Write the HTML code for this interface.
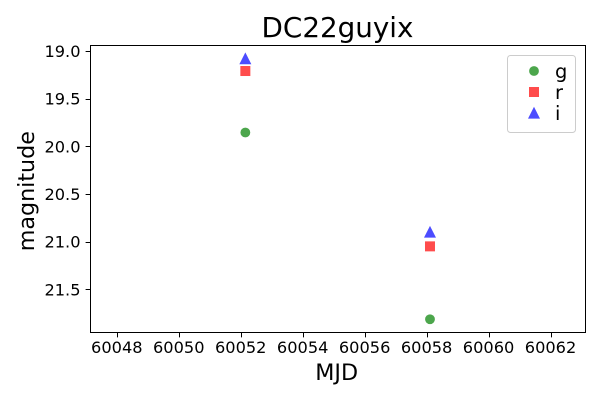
<!DOCTYPE html>
<html>
<head>
<meta charset="utf-8">
<style>
html,body{margin:0;padding:0;background:#fff;}
svg{display:block;}
text{font-family:"DejaVu Sans","Liberation Sans",sans-serif;fill:#000;}
</style>
</head>
<body>
<svg id="chart" xmlns="http://www.w3.org/2000/svg" width="600" height="400" viewBox="0 0 600 400"></svg>
<script>
const xTicks = [60048, 60050, 60052, 60054, 60056, 60058, 60060, 60062];
const yTicks = [19.0, 19.5, 20.0, 20.5, 21.0, 21.5];
const mjd = [60052.13, 60058.09];
const gMag = [19.855, 21.815];
const rMag = [19.21, 21.05];
const iMag = [19.08, 20.9];
const bands = ['g', 'r', 'i'];

const NS = 'http://www.w3.org/2000/svg';
const svg = document.getElementById('chart');
const L = 90.5, R = 585.5, T = 45.5, B = 332.5;
function xScale(v) { return 117.4 + (v - 60048) * 30.98; }
function yScale(v) { return 51 + (v - 19) * 95.3; }
function make(tag, attrs, parent) {
  const el = document.createElementNS(NS, tag);
  for (const k in attrs) el.setAttribute(k, attrs[k]);
  (parent || svg).appendChild(el);
  return el;
}
function label(str, x, y, size, anchor, parent) {
  const t = make('text', { x: x, y: y, 'font-size': size, 'text-anchor': anchor }, parent);
  t.textContent = str;
  return t;
}
function marker(band, x, y, parent) {
  let el;
  if (band === 'g') {
    el = make('circle', { cx: x, cy: y, r: 4.9, fill: '#008000', 'fill-opacity': 0.7 }, parent);
  } else if (band === 'r') {
    el = make('rect', { x: x - 5, y: y - 5, width: 10, height: 10, fill: '#ff0000', 'fill-opacity': 0.7 }, parent);
  } else {
    const p = [[x, y - 6.2], [x + 6, y + 5.6], [x - 6, y + 5.6]].map(function (c) { return c.join(','); }).join(' ');
    el = make('polygon', { points: p, fill: '#0000ff', 'fill-opacity': 0.7 }, parent);
  }
  return el;
}

const title = label('DC22guyix', 337.5, 37, 27.78, 'middle');



const series = { g: gMag, r: rMag, i: iMag };
bands.forEach(function (b) {
  const group = make('g', {});
  
  
  mjd.forEach(function (m, idx) {
    const pt = marker(b, xScale(m), yScale(series[b][idx]), group);
    
    
  });
});

const frame = make('rect', { x: L, y: T, width: R - L, height: B - T, fill: 'none', stroke: '#000', 'stroke-width': 1 });



const xAxis = make('g', {});


xTicks.forEach(function (v) {
  const x = Math.round(xScale(v)) + 0.5;
  const tick = make('line', { x1: x, x2: x, y1: B, y2: B + 4.9, stroke: '#000', 'stroke-width': 1 }, xAxis);
  
  
  const t = label(String(v), xScale(v) - 0.6, 353, 16.2, 'middle', xAxis);
  
  
});

const yAxis = make('g', {});


yTicks.forEach(function (v) {
  const y = Math.round(yScale(v)) + 0.5;
  const tick = make('line', { x1: L - 4.9, x2: L, y1: y, y2: y, stroke: '#000', 'stroke-width': 1 }, yAxis);
  
  
  const t = label(v.toFixed(1), 80.5, yScale(v) + 6, 16.2, 'end', yAxis);
  
  
});

const xTitle = label('MJD', 336.7, 380, 22.22, 'middle');



const yTitle = label('magnitude', 0, 0, 22.22, 'middle');
yTitle.setAttribute('transform', 'translate(34,191.2) rotate(-90)');



const legend = make('g', {});


const legendBox = make('rect', { x: 507.5, y: 55.5, width: 68, height: 77, rx: 3, ry: 3, fill: '#fff', 'fill-opacity': 0.8, stroke: '#cccccc', 'stroke-width': 1 }, legend);


bands.forEach(function (b, idx) {
  const y = 71 + idx * 21;
  const m = marker(b, 534, y, legend);
  
  
  const t = label(b, 555, y + 7, 19.44, 'start', legend);
  
  
});
</script>
</body>
</html>
